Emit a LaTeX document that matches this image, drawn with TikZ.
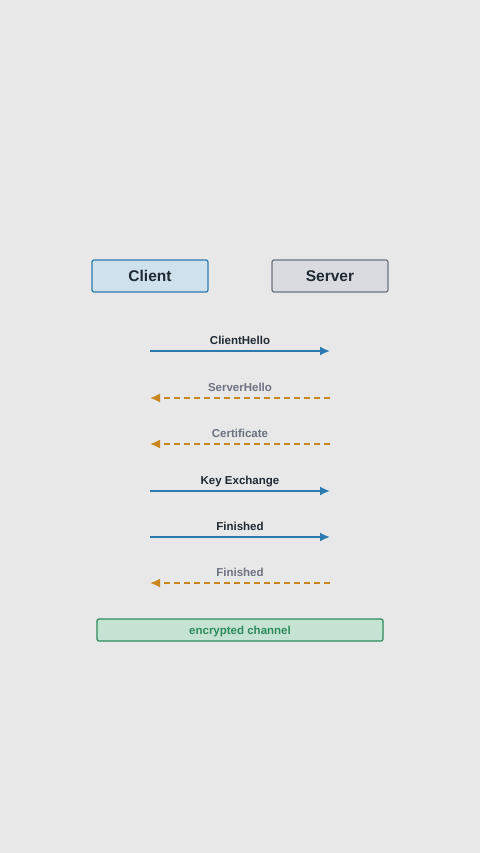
\documentclass[tikz,border=0pt]{standalone}
\usepackage{fontspec}
\setmainfont{Liberation Sans}
\usetikzlibrary{arrows.meta,positioning,calc}
\definecolor{tlsbg}{HTML}{E8E8E8}
\definecolor{tlsblue}{HTML}{2B7BB0}
\definecolor{tlsbluefill}{HTML}{CFE1EC}
\definecolor{tlsslate}{HTML}{6B7280}
\definecolor{tlsslatefill}{HTML}{D9DBE0}
\definecolor{tlsink}{HTML}{1F2933}
\definecolor{tlsorange}{HTML}{C8861E}
\definecolor{tlsgreen}{HTML}{2E8A5E}
\definecolor{tlsgreenfill}{HTML}{C5E3D3}

\begin{document}
\begin{tikzpicture}[
  x=1pt, y=-1pt,
  party/.style={rounded corners=2pt, line width=1.2pt, minimum width=116pt,
                minimum height=32pt, inner sep=0pt, text=tlsink,
                font=\fontsize{15.5}{18}\selectfont\bfseries},
  client/.style={party, draw=tlsblue, fill=tlsbluefill},
  server/.style={party, draw=tlsslate, fill=tlsslatefill},
  life/.style={draw=black!10, line width=0.8pt, dash pattern=on 3pt off 3pt},
  req/.style={-{Latex[length=10pt,width=9pt]}, tlsblue, line width=1.7pt},
  resp/.style={-{Latex[length=10pt,width=9pt]}, tlsorange, line width=1.7pt,
               dash pattern=on 6pt off 4pt},
  reqlbl/.style={text=tlsink, font=\fontsize{11.5}{13}\selectfont\bfseries},
  resplbl/.style={text=tlsslate, font=\fontsize{11.5}{13}\selectfont\bfseries},
  chan/.style={rounded corners=2pt, line width=1.2pt, draw=tlsgreen, fill=tlsgreenfill,
               minimum width=286pt, minimum height=22pt, inner sep=0pt, text=tlsgreen,
               text depth=0pt, font=\fontsize{11.5}{13}\selectfont\bfseries}
]

% canvas
\fill[tlsbg] (0,0) rectangle (480,853);
\useasboundingbox (0,0) rectangle (480,853);

% --- the two parties ---
\node[client] (client) at (150,276) {Client};
\node[server] (server) at (330,276) {Server};

% lifelines
\coordinate (cend) at (150,666);
\coordinate (send) at (330,666);
\draw[life] (client.south) -- (cend);
\draw[life] (server.south) -- (send);

% --- handshake messages ---
\foreach \y/\msg/\dir [count=\i] in {351/ClientHello/req, 398/ServerHello/resp,
    444/Certificate/resp, 491/Key Exchange/req, 537/Finished/req, 583/Finished/resp} {
  \coordinate (c\i) at (150,\y);
  \coordinate (s\i) at (330,\y);
  \ifnum\pdfstrcmp{\dir}{req}=0
    \draw[req] (c\i) -- (s\i);
    \node[reqlbl, anchor=base] (m\i) at ($(c\i)!0.5!(s\i)+(0,-7)$) {\msg};
  \else
    \draw[resp] (s\i) -- (c\i);
    \node[resplbl, anchor=base] (m\i) at ($(c\i)!0.5!(s\i)+(0,-7)$) {\msg};
  \fi
}

% --- after the handshake ---
\node[chan] (channel) at (240,630) {encrypted channel};

\end{tikzpicture}
\end{document}
